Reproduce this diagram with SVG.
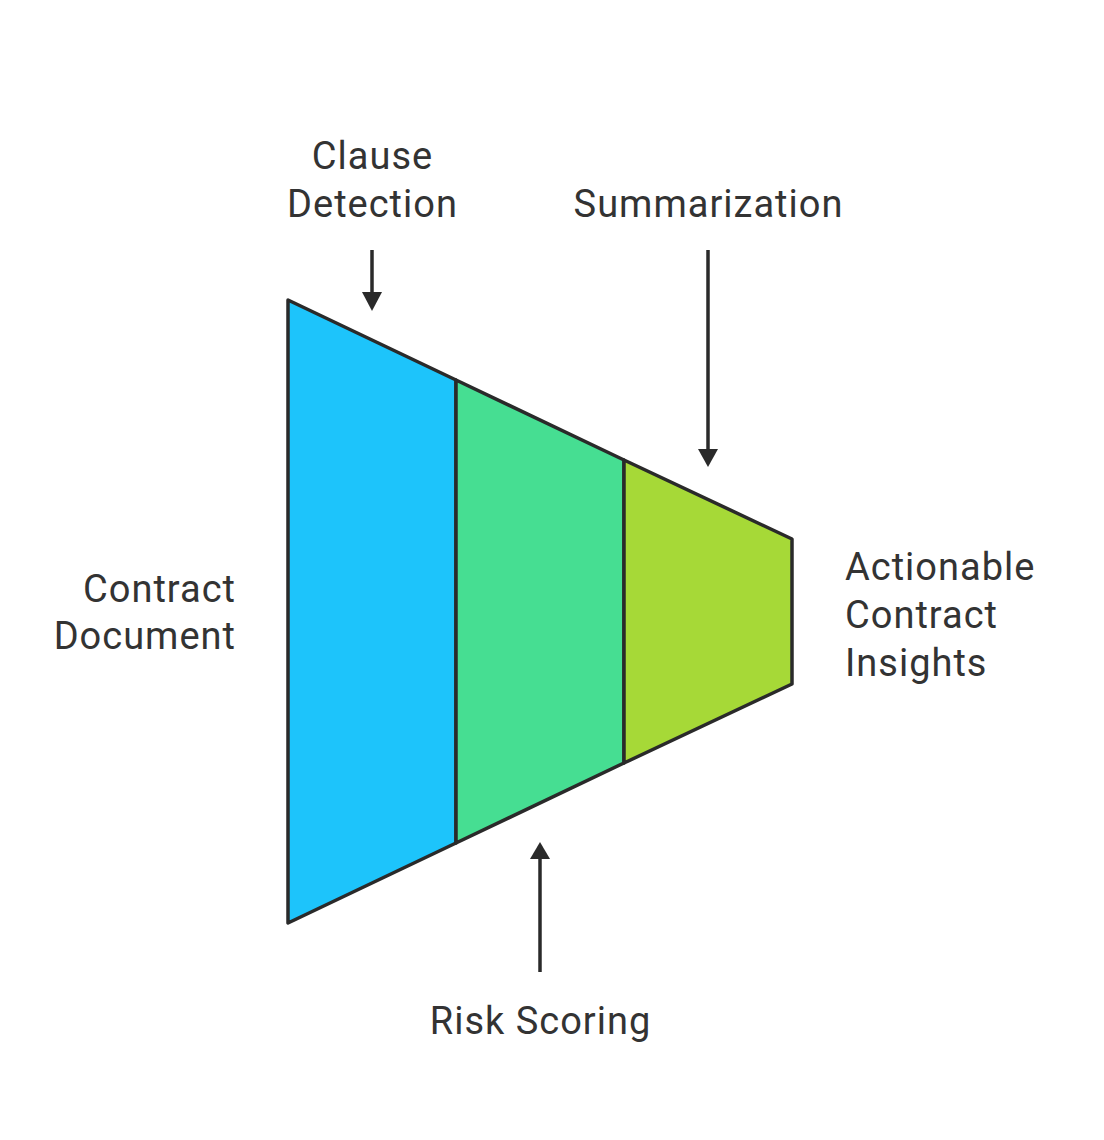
<svg xmlns="http://www.w3.org/2000/svg" width="1104" height="1140" viewBox="0 0 1104 1140">
<style>
.seg{stroke:#2a2a2a;stroke-width:3.5;stroke-linejoin:round}
.lbl{font-family:Roboto,"Liberation Sans",sans-serif;font-size:38px;fill:#333333;letter-spacing:1px}
.conn{stroke:#2a2a2a;stroke-width:3.5;fill:none}
</style>
<rect width="1104" height="1140" fill="#ffffff"/>
<g id="stage1">
<polygon class="seg" points="288,300 456,380 456,843 288,923" fill="#1DC4FB"/>
</g>
<g id="stage2">
<polygon class="seg" points="456,380 624,460 624,763 456,843" fill="#46DE92"/>
</g>
<g id="stage3">
<polygon class="seg" points="624,460 792,539 792,684 624,763" fill="#A6D937"/>
</g>
<g id="connectors">
<line class="conn" x1="372" y1="250" x2="372" y2="294"/>
<polygon points="362,292 382,292 372,311" fill="#2a2a2a"/>
<line class="conn" x1="708" y1="250" x2="708" y2="451"/>
<polygon points="698,449 718,449 708,467" fill="#2a2a2a"/>
<line class="conn" x1="540" y1="972" x2="540" y2="857"/>
<polygon points="530,859 550,859 540,842" fill="#2a2a2a"/>
</g>
<g id="label-clause">
<text class="lbl" x="372.5" y="169" text-anchor="middle">Clause</text>
<text class="lbl" x="372.5" y="217" text-anchor="middle">Detection</text>
</g>
<g id="label-summarization">
<text class="lbl" x="708.5" y="217" text-anchor="middle">Summarization</text>
</g>
<g id="label-contract">
<text class="lbl" x="236" y="602" text-anchor="end">Contract</text>
<text class="lbl" x="236" y="649" text-anchor="end">Document</text>
</g>
<g id="label-insights">
<text class="lbl" x="845" y="580">Actionable</text>
<text class="lbl" x="845" y="628">Contract</text>
<text class="lbl" x="845" y="676">Insights</text>
</g>
<g id="label-risk">
<text class="lbl" x="540.5" y="1034" text-anchor="middle">Risk Scoring</text>
</g>
</svg>
